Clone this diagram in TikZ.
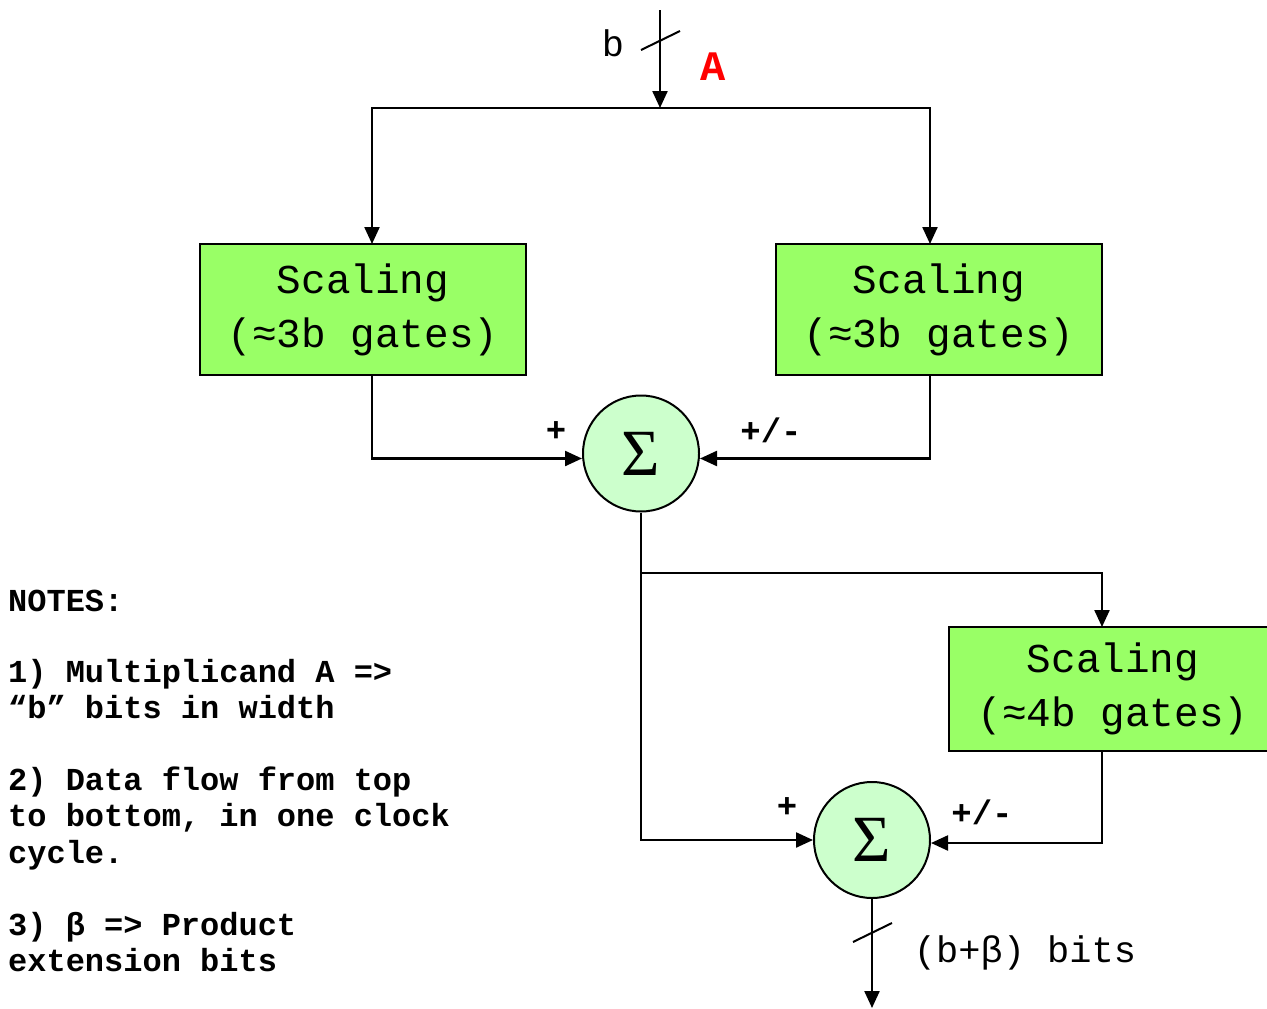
\documentclass[tikz,border=0pt]{standalone}
\usepackage{fontspec}
\setmonofont{Liberation Mono}
\newfontfamily\sigfont{Liberation Serif}
\usetikzlibrary{arrows.meta}
\definecolor{boxgreen}{HTML}{99FF66}
\definecolor{sumgreen}{HTML}{CCFFCC}
\begin{document}
\begin{tikzpicture}[x=1pt,y=-1pt,
  wire/.style={line width=2.3pt},
  arr/.style={wire,-{Triangle[length=17pt,width=15pt]}},
  tick/.style={line width=2pt},
  scalebox/.style={draw,line width=2pt,fill=boxgreen,minimum width=326pt,minimum height=131pt,
     align=center,font=\ttfamily\fontsize{41}{54}\selectfont},
  sumnode/.style={draw,line width=2pt,fill=sumgreen,circle,minimum size=116pt,inner sep=0pt,
     font=\sigfont\fontsize{66}{66}\selectfont},
  sign/.style={font=\ttfamily\bfseries\fontsize{34}{34}\selectfont,inner sep=0pt},
  note/.style={anchor=base west,inner sep=0pt,font=\ttfamily\bfseries\fontsize{32}{36}\selectfont},
  lab/.style={font=\ttfamily\fontsize{37}{37}\selectfont,inner sep=0pt}]
\useasboundingbox (0,0) rectangle (1267,1009);
% boxes
\node[scalebox] (B1) at (363,309.5) {Scaling\\(≈3b gates)};
\node[scalebox] (B2) at (939,309.5) {Scaling\\(≈3b gates)};
\node[scalebox,minimum width=328pt,minimum height=124pt] (B3) at (1113,689) {Scaling\\(≈4b gates)};
% sums
\node[sumnode] (S1) at (641,453.5) {Σ};
\node[sumnode] (S2) at (872,840) {Σ};
% coordinates
\coordinate (top) at (660,10);
\coordinate (split) at (660,108);
\coordinate (B1in) at (372,244);
\coordinate (B2in) at (930,244);
\coordinate (B1out) at (372,375);
\coordinate (B2out) at (930,375);
\coordinate (br) at (641,573);
\coordinate (B3in) at (1102,627);
\coordinate (B3out) at (1102,751);
\coordinate (out) at (872,1008);
\coordinate (t1) at (641,50);
\coordinate (t2) at (680,31);
\coordinate (t3) at (853,942);
\coordinate (t4) at (892,923);
% connectors
\draw[arr] (top) -- (split);
\draw[arr] (split) -| (B1in);
\draw[arr] (split) -| (B2in);
\draw[arr] (B1out) |- ([yshift=-5pt]S1.west);
\draw[arr] (B2out) |- ([yshift=-5pt]S1.east);
\draw[arr] (S1.south) |- (S2.west);
\draw[arr] (br) -| (B3in);
\draw[arr] (B3out) |- ([yshift=-3pt]S2.east);
\draw[arr] (S2.south) -- (out);
\draw[tick] (t1) -- (t2);
\draw[tick] (t3) -- (t4);
% labels
\node[lab] (lb) at (613,43) {b};
\node[font=\ttfamily\bfseries\fontsize{42}{42}\selectfont,text=red,inner sep=0pt] (lA) at (713,67) {A};
\node[sign] (p1) at (556,432) {+};
\node[sign] (pm1) at (771,430) {+/-};
\node[sign] (p2) at (787,808) {+};
\node[sign] (pm2) at (982,812) {+/-};
\node[lab] (lout) at (1025,953) {(b+β) bits};
% notes
\node[note] (n0) at (8,611) {NOTES:};
\node[note] (n1) at (8,682) {1) Multiplicand A =>};
\node[note] (n2) at (8,718) {“b” bits in width};
\node[note] (n3) at (8,790) {2) Data flow from top};
\node[note] (n4) at (8,826) {to bottom, in one clock};
\node[note] (n5) at (8,863) {cycle.};
\node[note] (n6) at (8,935) {3) β => Product};
\node[note] (n7) at (8,971) {extension bits};
\end{tikzpicture}
\end{document}
